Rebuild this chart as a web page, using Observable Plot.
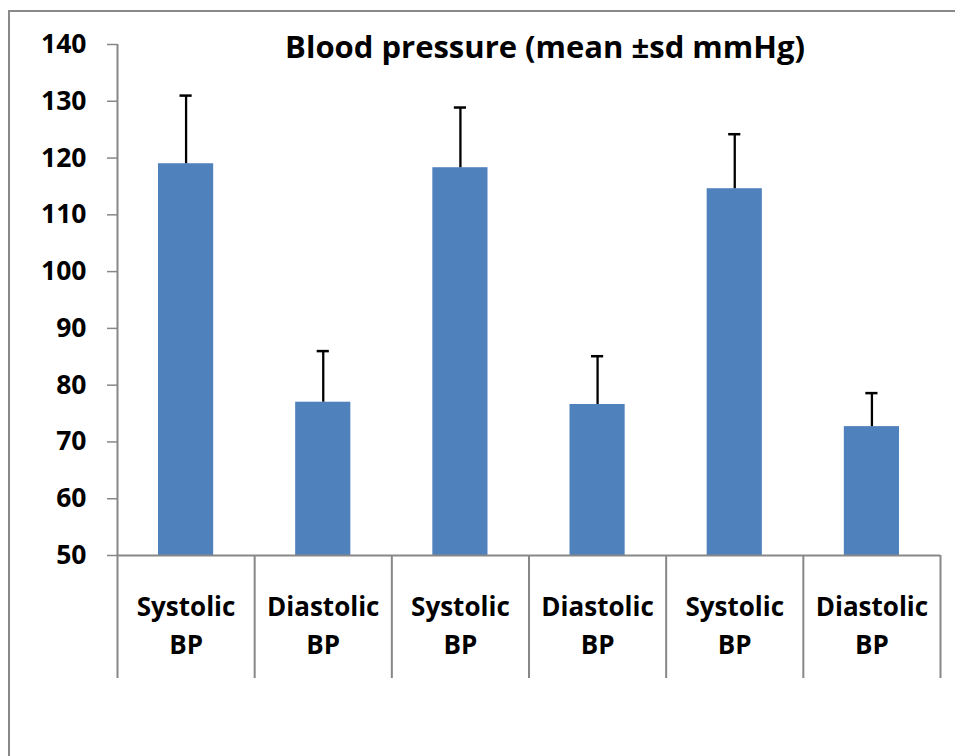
<!DOCTYPE html>
<html>
<head>
<meta charset="utf-8">
<script src="https://cdn.jsdelivr.net/npm/d3@7"></script>
<script src="https://cdn.jsdelivr.net/npm/@observablehq/plot@0.6"></script>
<style>
  html, body { margin: 0; padding: 0; background: #fff; }
  #wrap { position: relative; width: 955px; height: 756px; overflow: hidden; }
  #border { position: absolute; left: 8px; top: 10px; width: 1100px; height: 900px; border-left: 2px solid #898989; border-top: 2px solid #898989; box-sizing: border-box; }
  #chart { position: absolute; left: 0; top: 0; }
</style>
</head>
<body>
<div id="wrap"><div id="border"></div><div id="chart"></div></div>
<script>
const categories = ["Systolic\nBP", "Diastolic\nBP", "Systolic\nBP", "Diastolic\nBP", "Systolic\nBP", "Diastolic\nBP"];
const means = [119, 77, 118.3, 76.6, 114.6, 72.7];
const sds = [12, 9, 10.6, 8.5, 9.6, 5.9];
const yTicks = [50, 60, 70, 80, 90, 100, 110, 120, 130, 140];
const title = "Blood pressure (mean ±sd mmHg)";

const baseline = yTicks[0];
const data = categories.map((label, i) => ({ i, label, mean: means[i], sd: sds[i], top: means[i] + sds[i] }));
const separators = d3.range(categories.length + 1);
const axisGray = "#878787";
const font = "'Open Sans', sans-serif";

const chart = Plot.plot({
  width: 955,
  height: 756,
  marginLeft: 117,
  marginRight: 15,
  marginTop: 44,
  marginBottom: 201,
  x: { domain: [0, categories.length], axis: null },
  y: { domain: [baseline, yTicks[yTicks.length - 1]], axis: null },
  style: { fontFamily: font, background: "transparent", color: "black" },
  marks: [
    Plot.rectY(data, { x1: "i", x2: d => d.i + 1, y1: baseline, y2: "mean", fill: "#4F81BD", insetLeft: 41, insetRight: 41 }),
    Plot.ruleX(data, { x: d => d.i + 0.5, y1: "mean", y2: "top", stroke: "black", strokeWidth: 2.3 }),
    Plot.ruleY(data, { x1: "i", x2: d => d.i + 1, y: "top", insetLeft: 62.5, insetRight: 62.5, stroke: "black", strokeWidth: 2.5 }),
    Plot.axisY({ ticks: yTicks, tickSize: 10, tickPadding: 21, stroke: axisGray, strokeWidth: 1.5, fontSize: 26.5, fontWeight: "bold", fill: "black", label: null, tickFormat: d => String(d) }),
    Plot.axisX({ ticks: separators, tickSize: 123, tickPadding: 0, stroke: axisGray, strokeWidth: 2, label: null, tickFormat: () => "" }),
    Plot.ruleY([baseline], { stroke: axisGray, strokeWidth: 2 }),
    Plot.ruleX([0], { stroke: axisGray, strokeWidth: 2 }),
    Plot.text(data, { x: d => d.i + 0.5, text: "label", frameAnchor: "bottom", dy: 67, lineAnchor: "middle", lineHeight: 38 / 26, fontSize: 26, fontWeight: "bold", fill: "black" }),
    Plot.text([title], { frameAnchor: "top", dx: 16, dy: 4, lineAnchor: "middle", fontSize: 31, fontWeight: "bold", fill: "black" })
  ]
});
document.getElementById("chart").appendChild(chart);
</script>
</body>
</html>
